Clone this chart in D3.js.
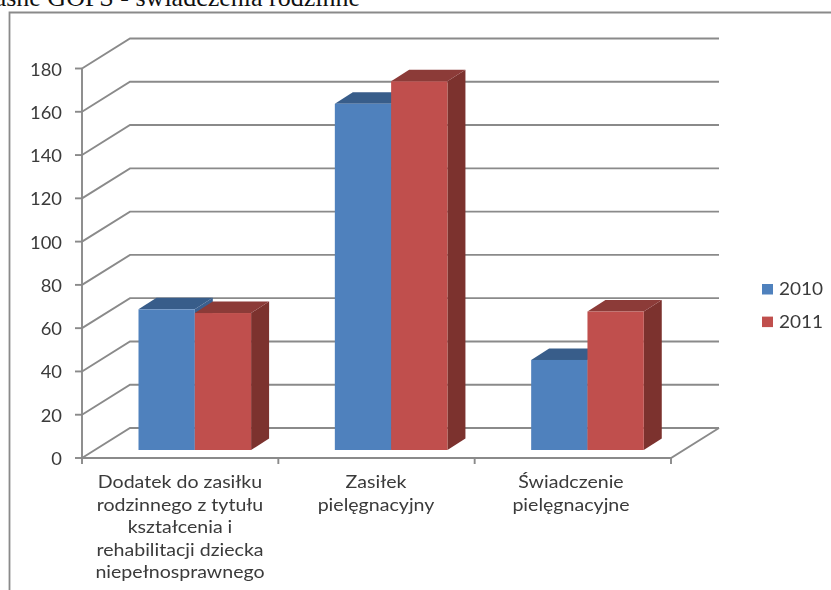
<!DOCTYPE html>
<html><head><meta charset="utf-8">
<script src="https://cdn.jsdelivr.net/npm/d3@7/dist/d3.min.js"></script>
<style>html,body{margin:0;padding:0;background:#fff;overflow:hidden}svg{display:block}</style>
</head><body><svg id="c" width="831" height="590"></svg>
<script>
const pageTitle = "własne GOPS - świadczenia rodzinne";
const categories = ["Dodatek do zasiłku rodzinnego","Zasiłek pielęgnacyjny","Świadczenie pielęgnacyjne"];
const categoryLines = [
  ["Dodatek do zasiłku","rodzinnego z tytułu","kształcenia i","rehabilitacji dziecka","niepełnosprawnego"],
  ["Zasiłek","pielęgnacyjny"],
  ["Świadczenie","pielęgnacyjne"]];
const seriesNames = ["2010","2011"];
const values2010 = [65,160,41.6];
const values2011 = [63.3,170.4,64];
const yTicks = [0,20,40,60,80,100,120,140,160,180];
const colorsFront = ["#4f81bd","#c0504d"];
const colorsTop = ["#385d8a","#8c3a38"];
const colorsSide = ["#3a6190","#7b302e"];

const svg = d3.select("#c");
const defs = svg.append("defs");
defs.append("filter").attr("id","soft").attr("x","-5%").attr("y","-5%").attr("width","110%").attr("height","110%")
  .append("feGaussianBlur").attr("stdDeviation",0.5);

const W = {x0:82,x1:671,y0:458,y1:68.5,dx:48,dy:-30};
const y = d3.scaleLinear().domain([0,180]).range([W.y0,W.y1]);
const x = d3.scaleBand().domain(categories).range([W.x0,W.x1]);
const barBase = W.y0-8, inset = 56.5, barW = 56.3, depthX = 18, depthY = -11.5;
const h = v => y(0)-y(v);
const gray = "#8a8a8a";

svg.append("text").attr("x",360).attr("y",6).attr("text-anchor","end")
  .attr("font-family","Liberation Serif").attr("font-size",26).attr("fill","#111").text(pageTitle);
const root = svg.append("g").attr("filter","url(#soft)");
root.append("path").attr("d","M9.5,590V12.5H831").attr("fill","none").attr("stroke",gray).attr("stroke-width",1.8);

const grid = root.append("g").attr("fill","none").attr("stroke",gray).attr("stroke-width",1.9);
grid.selectAll("path.g").data(yTicks).join("path").attr("class","g")
  .attr("d",d=>d3.line()([[W.x0,y(d)],[W.x0+W.dx,y(d)+W.dy],[W.x1+W.dx,y(d)+W.dy]]));
grid.append("path").attr("d",d3.line()([[W.x0,y(0)],[W.x1,y(0)],[W.x1+W.dx,y(0)+W.dy]]));
grid.append("path").attr("d",d3.line()([[W.x0,y(180)],[W.x0,y(0)]]));
grid.selectAll("path.t").data(yTicks).join("path").attr("class","t")
  .attr("d",d=>d3.line()([[W.x0-7,y(d)],[W.x0,y(d)]]));
grid.selectAll("path.xt").data(categories.map(c=>x(c)).concat(W.x1)).join("path").attr("class","xt")
  .attr("d",d=>d3.line()([[d,y(0)],[d,y(0)+6]]));

const bars = root.append("g");
categories.forEach((c,i)=>{
  [values2010,values2011].forEach((vals,s)=>{
    const v = vals[i], xl = x(c)+inset+s*barW, xr = xl+barW, top = barBase-h(v), bot = barBase;
    const g = bars.append("g");
    g.append("path").attr("fill",colorsSide[s]).attr("d",d3.line()([[xr,top],[xr+depthX,top+depthY],[xr+depthX,bot+depthY],[xr,bot]])+"Z");
    g.append("path").attr("fill",colorsTop[s]).attr("d",d3.line()([[xl,top],[xl+depthX,top+depthY],[xr+depthX,top+depthY],[xr,top]])+"Z");
    g.append("rect").attr("x",xl).attr("y",top).attr("width",barW).attr("height",h(v)).attr("fill",colorsFront[s]);
  });
});

const txt = svg.append("g").attr("font-family","Lato").attr("fill","#3a3a3a").attr("filter","url(#soft)");
txt.selectAll("text.y").data(yTicks).join("text").attr("class","y")
  .attr("x",0).attr("y",0).attr("text-anchor","end").attr("font-size",17)
  .attr("transform",d=>`translate(62,${y(d)+7}) scale(1.08,1)`).text(d=>d);
categories.forEach((c,i)=>{
  const cx = [180,376,571][i];
  txt.append("g").selectAll("text").data(categoryLines[i]).join("text")
    .attr("text-anchor","middle").attr("font-size",17.5)
    .attr("transform",(d,j)=>`translate(${cx},${488+j*22.6}) scale(1.12,1)`).text(d=>d);
});

const lg = svg.append("g").attr("filter","url(#soft)");
seriesNames.forEach((n,i)=>{
  lg.append("rect").attr("x",762).attr("y",284+i*32.6).attr("width",11).attr("height",10.5).attr("fill",colorsFront[i]);
  lg.append("text").attr("font-family","Lato").attr("font-size",17).attr("fill","#3a3a3a")
    .attr("transform",`translate(779,${295+i*32.6}) scale(1.12,1)`).text(n);
});
</script></body></html>
